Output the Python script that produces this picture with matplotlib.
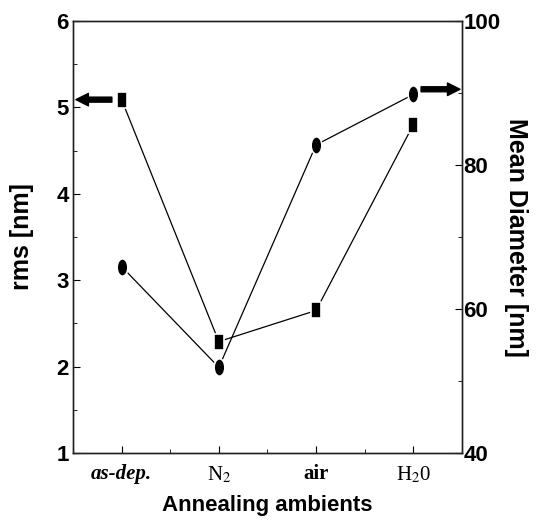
import matplotlib.pyplot as plt
from matplotlib.path import Path
from matplotlib.transforms import Affine2D

# data
categories = ['as-dep.', 'N$_2$', 'air', 'H$_2$0']
rms = [5.09, 2.29, 2.65, 4.80]          # left axis, squares
diameter = [65.9, 51.9, 82.8, 89.8]     # right axis, circles

plt.rcParams['mathtext.fontset'] = 'stix'

SANS = ['Liberation Sans', 'DejaVu Sans']
SERIF = ['Liberation Serif', 'DejaVu Serif']

# slightly tall markers like in the scan
square = Path([(-0.35, -0.5), (0.35, -0.5), (0.35, 0.5), (-0.35, 0.5), (-0.35, -0.5)],
              [Path.MOVETO, Path.LINETO, Path.LINETO, Path.LINETO, Path.CLOSEPOLY])
oval = Path.unit_circle().transformed(Affine2D().scale(0.62, 1.0))


def main():
    fig = plt.figure(figsize=(5.39, 5.2), dpi=100)
    ax = fig.add_axes([0.1354, 0.1288, 0.7216, 0.8308])
    ax2 = ax.twinx()

    x = list(range(len(categories)))
    ax.plot(x, rms, color='black', lw=0.9, marker=square, ms=11.0,
            mfc='black', mec='white', mew=1.2)
    ax2.plot(x, diameter, color='black', lw=0.9, marker=oval, ms=12.5,
             mfc='black', mec='white', mew=1.2)

    ax.set_xlim(-0.5, 3.5)
    ax.set_ylim(1, 6)
    ax2.set_ylim(40, 100)

    ax.set_yticks([1, 2, 3, 4, 5, 6])
    ax.set_yticks([1.5, 2.5, 3.5, 4.5, 5.5], minor=True)
    ax2.set_yticks([40, 60, 80, 100])
    ax2.set_yticks([50, 70, 90], minor=True)
    ax.set_xticks(x)
    ax.set_xticks([0.5, 1.5, 2.5], minor=True)
    ax.set_xticklabels(categories)

    for a in (ax, ax2):
        a.tick_params(which='major', direction='in', length=5, width=0.8)
        a.tick_params(which='minor', direction='in', length=3, width=0.6)
        for s in a.spines.values():
            s.set_linewidth(1.0)
            s.set_color('#222222')
    ax.tick_params(axis='x', pad=8)
    ax.tick_params(axis='y', pad=3)
    ax2.tick_params(axis='y', pad=1)

    for t in ax.get_yticklabels() + ax2.get_yticklabels():
        t.set_fontfamily(SANS)
        t.set_fontweight('bold')
        t.set_fontsize(16)

    xl = ax.get_xticklabels()
    for t in xl:
        t.set_fontfamily(SERIF)
        t.set_fontsize(15)
        t.set_fontweight('bold')
    xl[0].set_fontstyle('italic')
    xl[1].set_fontweight('normal')
    xl[3].set_fontweight('normal')

    ax.set_ylabel('rms [nm]', fontsize=18, fontweight='bold', family=SANS, labelpad=16)
    ax2.set_ylabel('Mean Diameter [nm]', fontsize=18, fontweight='bold', family=SANS,
                   rotation=270, labelpad=20)
    ax.set_xlabel('Annealing ambients', fontsize=16, fontweight='bold', family=SANS,
                  labelpad=7)

    arrow = dict(arrowstyle='simple,head_length=0.75,head_width=0.75,tail_width=0.3',
                 mutation_scale=12, color='black', shrinkA=0, shrinkB=0)
    ax.annotate('', xy=(-0.47, rms[0]), xytext=(-0.10, rms[0]), arrowprops=arrow)
    ax.annotate('', xy=(3.48, 5.21), xytext=(3.08, 5.21), arrowprops=arrow)

    fig.savefig('out.png', dpi=100)


if __name__ == '__main__':
    main()
